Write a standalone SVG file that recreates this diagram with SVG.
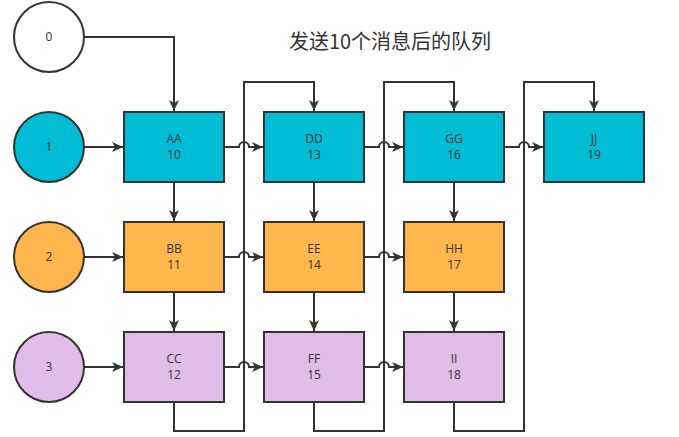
<svg xmlns="http://www.w3.org/2000/svg" width="679" height="437" viewBox="0 0 679 437">
<style>
.c{stroke:#333;stroke-width:2}
.b{stroke:#333;stroke-width:2}
.t{font-family:"Open Sans","Liberation Sans",sans-serif;font-size:12px;fill:#333;text-anchor:middle}
.e{fill:none;stroke:#333;stroke-width:2}
.cy{fill:#00BCD4}.or{fill:#FFB74D}.lv{fill:#E1BEE7}
</style>
<defs>
<marker id="a" markerWidth="12" markerHeight="10" refX="11" refY="5" orient="auto" markerUnits="userSpaceOnUse">
<path d="M0,0 L11,5 L0,10 L3,5 Z" fill="#333"/>
</marker>
</defs>
<text x="390" y="49" style="font-family:'Noto Sans CJK SC',sans-serif;font-size:20px;fill:#333;text-anchor:middle">发送10个消息后的队列</text>
<g id="edges">
<path class="e" d="M84,37 H174 V111" marker-end="url(#a)"/>
<path class="e" d="M84,147 H123" marker-end="url(#a)"/>
<path class="e" d="M84,257 H123" marker-end="url(#a)"/>
<path class="e" d="M84,367 H123" marker-end="url(#a)"/>
<path class="e" d="M174,182 V221" marker-end="url(#a)"/>
<path class="e" d="M174,292 V331" marker-end="url(#a)"/>
<path class="e" d="M314,182 V221" marker-end="url(#a)"/>
<path class="e" d="M314,292 V331" marker-end="url(#a)"/>
<path class="e" d="M454,182 V221" marker-end="url(#a)"/>
<path class="e" d="M454,292 V331" marker-end="url(#a)"/>
<path class="e" d="M174,402 V431 H244 V82 H314 V111" marker-end="url(#a)"/>
<path class="e" d="M314,402 V431 H384 V82 H454 V111" marker-end="url(#a)"/>
<path class="e" d="M454,402 V431 H524 V82 H594 V111" marker-end="url(#a)"/>
<path class="e" d="M224,147 H239 A5,5 0 0 1 249,147 H263" marker-end="url(#a)"/>
<path class="e" d="M364,147 H379 A5,5 0 0 1 389,147 H403" marker-end="url(#a)"/>
<path class="e" d="M504,147 H519 A5,5 0 0 1 529,147 H543" marker-end="url(#a)"/>
<path class="e" d="M224,257 H239 A5,5 0 0 1 249,257 H263" marker-end="url(#a)"/>
<path class="e" d="M364,257 H379 A5,5 0 0 1 389,257 H403" marker-end="url(#a)"/>
<path class="e" d="M224,367 H239 A5,5 0 0 1 249,367 H263" marker-end="url(#a)"/>
<path class="e" d="M364,367 H379 A5,5 0 0 1 389,367 H403" marker-end="url(#a)"/>
</g>
<g id="n0"><circle class="c" cx="49" cy="37" r="35" fill="#fff"/><text class="t" x="49" y="41">0</text></g>
<g id="n1"><circle class="c cy" cx="49" cy="147" r="35"/><text class="t" x="49" y="151">1</text></g>
<g id="n2"><circle class="c or" cx="49" cy="257" r="35"/><text class="t" x="49" y="261">2</text></g>
<g id="n3"><circle class="c lv" cx="49" cy="367" r="35"/><text class="t" x="49" y="371">3</text></g>
<g id="AA"><rect class="b cy" x="124" y="112" width="100" height="70"/><text class="t" x="174" y="143">AA</text><text class="t" x="174" y="159">10</text></g>
<g id="BB"><rect class="b or" x="124" y="222" width="100" height="70"/><text class="t" x="174" y="253">BB</text><text class="t" x="174" y="269">11</text></g>
<g id="CC"><rect class="b lv" x="124" y="332" width="100" height="70"/><text class="t" x="174" y="363">CC</text><text class="t" x="174" y="379">12</text></g>
<g id="DD"><rect class="b cy" x="264" y="112" width="100" height="70"/><text class="t" x="314" y="143">DD</text><text class="t" x="314" y="159">13</text></g>
<g id="EE"><rect class="b or" x="264" y="222" width="100" height="70"/><text class="t" x="314" y="253">EE</text><text class="t" x="314" y="269">14</text></g>
<g id="FF"><rect class="b lv" x="264" y="332" width="100" height="70"/><text class="t" x="314" y="363">FF</text><text class="t" x="314" y="379">15</text></g>
<g id="GG"><rect class="b cy" x="404" y="112" width="100" height="70"/><text class="t" x="454" y="143">GG</text><text class="t" x="454" y="159">16</text></g>
<g id="HH"><rect class="b or" x="404" y="222" width="100" height="70"/><text class="t" x="454" y="253">HH</text><text class="t" x="454" y="269">17</text></g>
<g id="II"><rect class="b lv" x="404" y="332" width="100" height="70"/><text class="t" x="454" y="363">II</text><text class="t" x="454" y="379">18</text></g>
<g id="JJ"><rect class="b cy" x="544" y="112" width="100" height="70"/><text class="t" x="594" y="143">JJ</text><text class="t" x="594" y="159">19</text></g>
</svg>
